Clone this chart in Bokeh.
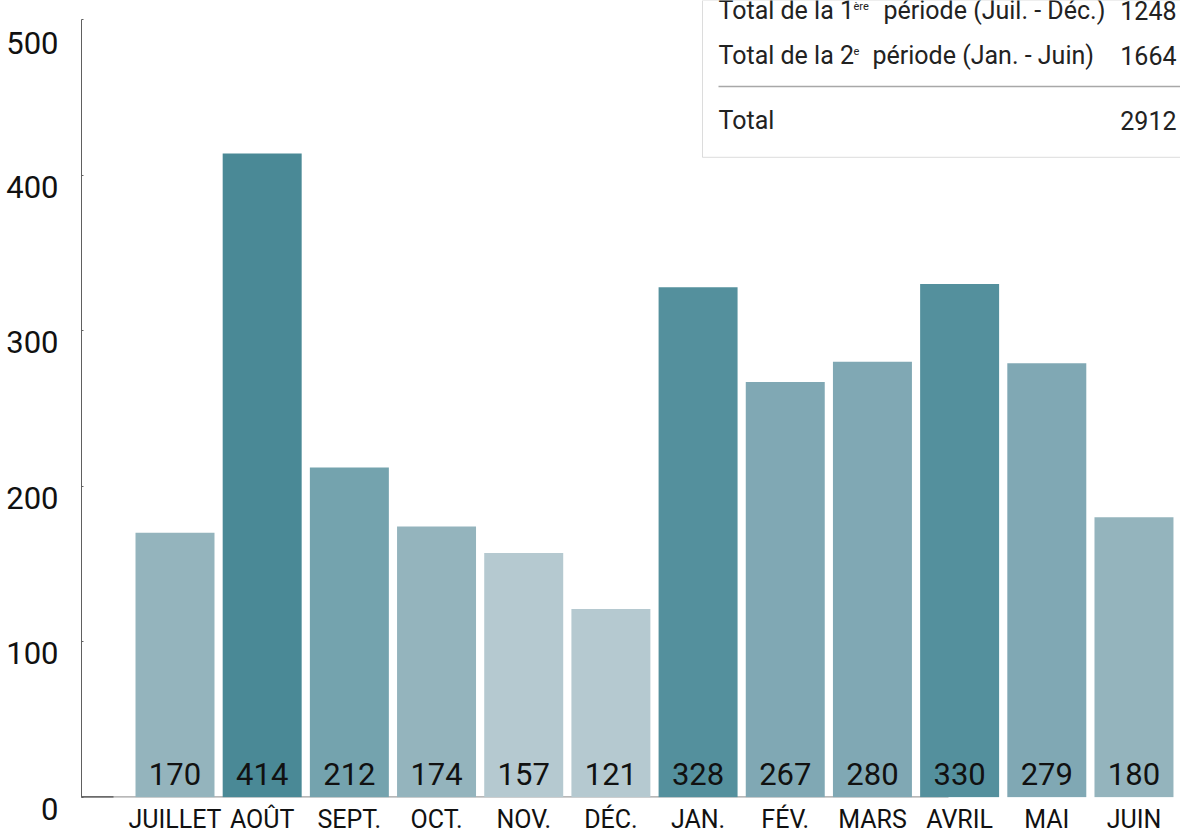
from bokeh.plotting import figure
from bokeh.models import Range1d, FixedTicker, BoxAnnotation, ColumnDataSource
from bokeh.core.properties import value
from bokeh.embed import file_html
from bokeh.resources import INLINE

# ---- data ----
months = ["JUILLET", "AOÛT", "SEPT.", "OCT.", "NOV.", "DÉC.",
          "JAN.", "FÉV.", "MARS", "AVRIL", "MAI", "JUIN"]
counts = [170, 414, 212, 174, 157, 121, 328, 267, 280, 330, 279, 180]
bar_colors = ["#94b4bd", "#4a8996", "#74a3ae", "#94b4bd", "#b5c9d0", "#b5c9d0",
              "#54909d", "#80a8b4", "#80a8b4", "#54909d", "#80a8b4", "#94b4bd"]
y_ticks = [0, 100, 200, 300, 400, 500]
total_labels = ["Total de la 1", "Total de la 2", "Total"]
total_sup = ["ère", "e", ""]
total_rest = ["période (Juil. - Déc.)", "période (Jan. - Juin)", ""]
total_values = [1248, 1664, 2912]

FONT = "Roboto"

# ---- layout helpers (pixel geometry of the frame) ----
W, H = 1180, 836
FRAME_L = 81
BORDER_B = 38
PITCH = 87.18
C0 = 174.5          # pixel centre of first bar
ZERO_PX = 797.7     # pixel row of value 0
PPU = 1.557         # pixels per unit


def X(px):
    return (px - C0) / PITCH


def Y(py):
    return (ZERO_PX - py) / PPU


frame_h = H - BORDER_B
p = figure(width=W, height=H, output_backend="svg", toolbar_location=None,
           x_range=Range1d(X(FRAME_L), X(W)), y_range=Range1d(Y(frame_h), Y(0)),
           min_border_left=FRAME_L, min_border_right=0, min_border_top=0,
           min_border_bottom=BORDER_B)
p.outline_line_color = None
p.grid.grid_line_color = None
p.background_fill_color = "white"
p.border_fill_color = "white"

idx = list(range(len(months)))
src = ColumnDataSource(dict(x=idx, top=counts, color=bar_colors,
                            label=[str(c) for c in counts], zero=[0] * len(counts)))

# totals box (behind everything)
p.add_layout(BoxAnnotation(left=X(702), bottom=Y(157), fill_color="white", fill_alpha=1,
                           line_color="#8a8a8a", line_width=1, level="underlay"))

# baseline
p.segment(x0=[X(FRAME_L)], y0=[0], x1=[X(948)], y1=[0], line_color="#a0a0a0", line_width=2)
p.segment(x0=[X(FRAME_L)], y0=[0], x1=[X(113)], y1=[0], line_color="#505050", line_width=2)

p.vbar(x="x", top="top", bottom=0, width=0.906, fill_color="color", line_color=None, source=src)

p.text(x="x", y="zero", text="label", source=src, text_align="center",
       text_baseline="alphabetic", y_offset=-23, text_font=value(FONT),
       text_font_size="31px", text_color="#111111")

# y axis (labels sit a little below their tick, as in the original)
ya = p.yaxis[0]
ya.ticker = FixedTicker(ticks=y_ticks)
ya.major_label_overrides = {t: "\n" + str(t) for t in y_ticks}
ya.major_label_text_line_height = 0.65
ya.bounds = (0, 500)
ya.axis_line_color = "#606060"
ya.axis_line_width = 1
ya.major_tick_in = 2
ya.major_tick_out = 0
ya.major_tick_line_color = "#606060"
ya.minor_tick_line_color = None
ya.major_label_standoff = 23
ya.major_label_text_font = FONT
ya.major_label_text_font_size = "31px"
ya.major_label_text_color = "#111111"

# x axis
xa = p.xaxis[0]
xa.ticker = FixedTicker(ticks=idx)
xa.major_label_overrides = {i: m for i, m in zip(idx, months)}
xa.axis_line_color = None
xa.major_tick_line_color = None
xa.minor_tick_line_color = None
xa.major_tick_out = 0
xa.major_label_standoff = 7
xa.major_label_text_line_height = 0.7
xa.major_label_text_font = FONT
xa.major_label_text_font_size = "25px"
xa.major_label_text_color = "#111111"

# totals table
p.segment(x0=[X(718)], y0=[Y(86)], x1=[X(W)], y1=[Y(86)], line_color="#a8a8a8",
          line_width=1.5)

row_base = [20, 65, 130]
sup_dx = [135, 135, 0]
rest_dx = [165, 154, 0]
for i in range(3):
    yb = Y(row_base[i])
    p.text(x=[X(718)], y=[yb], text=[total_labels[i]], text_baseline="alphabetic",
           y_offset=-10, text_font=value(FONT), text_font_size="25px", text_color="#222222")
    if total_sup[i]:
        p.text(x=[X(718 + sup_dx[i])], y=[yb], text=[total_sup[i]], text_baseline="alphabetic",
               y_offset=-14, text_font=value(FONT), text_font_size="11px",
               text_color="#222222")
        p.text(x=[X(718 + rest_dx[i])], y=[yb], text=[total_rest[i]], text_baseline="alphabetic",
               y_offset=-10, text_font=value(FONT), text_font_size="25px", text_color="#222222")
    p.text(x=[X(1176)], y=[yb], text=[str(total_values[i])], text_baseline="alphabetic",
           y_offset=-10, text_align="right", text_font=value(FONT), text_font_size="25px",
           text_color="#222222")

open("out.html", "w").write(file_html(p, INLINE))
